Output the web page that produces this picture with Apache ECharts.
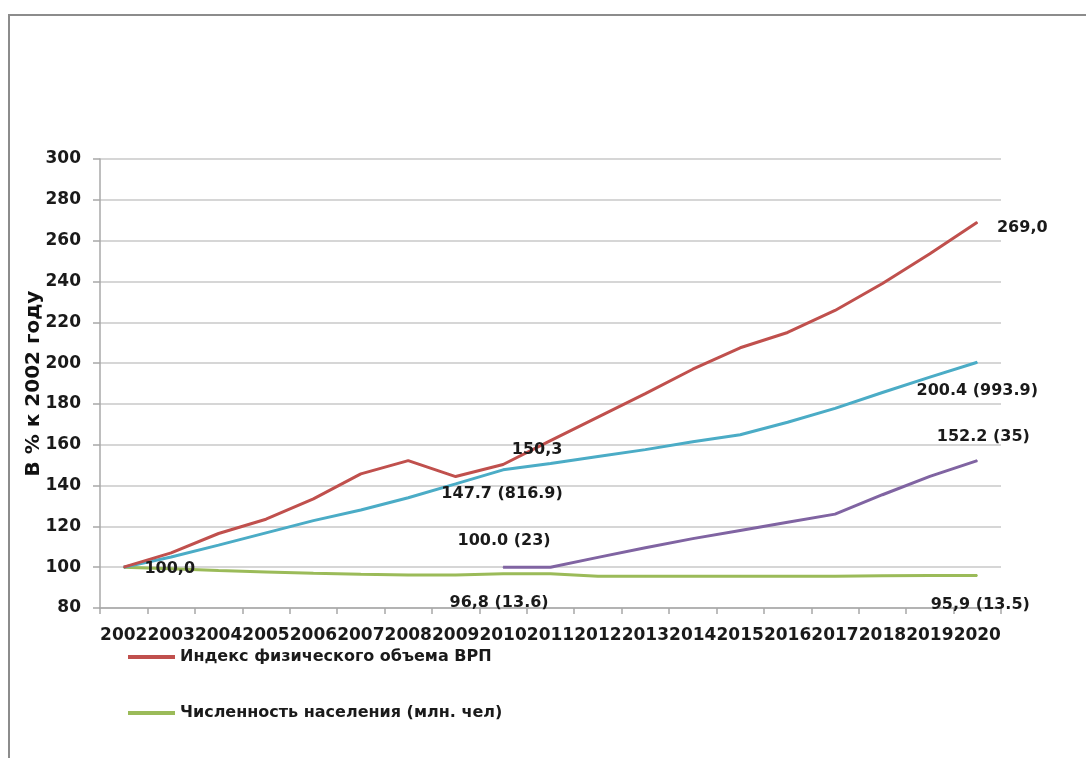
<!DOCTYPE html>
<html>
<head>
<meta charset="utf-8">
<script src="https://cdn.jsdelivr.net/npm/echarts@6/dist/echarts.min.js"></script>
<style>
  html, body { margin: 0; padding: 0; background: #fff; }
  #frame { position: absolute; left: 8px; top: 14px; width: 1078px; height: 744px;
           border-left: 2px solid #8c8c8c; border-top: 2px solid #8c8c8c; box-sizing: border-box; }
  #chart { position: absolute; left: 0; top: 0; width: 1086px; height: 758px; }
</style>
</head>
<body>
<div id="frame"></div>
<div id="chart"></div>
<script>
// Years on the category axis
const years = ['2002', '2003', '2004', '2005', '2006', '2007', '2008', '2009', '2010', '2011',
               '2012', '2013', '2014', '2015', '2016', '2017', '2018', '2019', '2020'];

// Index values, % of 2002
const grpVolumeIndex = [100.0, 107.0, 116.5, 123.5, 133.5, 145.7, 152.2, 144.4, 150.3, 162.0,
                        173.5, 185.0, 197.0, 207.5, 215.0, 225.8, 239.0, 253.6, 269.0];
const series3Index   = [100.0, 105.0, 110.8, 116.8, 122.8, 128.0, 134.0, 140.8, 147.7, 150.8,
                        154.2, 157.6, 161.5, 164.9, 171.0, 177.8, 185.6, 193.1, 200.4];
const series4Index   = [null, null, null, null, null, null, null, null, 100.0, 100.0,
                        104.8, 109.5, 114.0, 118.0, 122.0, 126.0, 135.5, 144.5, 152.2];
const populationIndex = [100.0, 99.2, 98.4, 97.7, 97.0, 96.5, 96.2, 96.2, 96.8, 96.8,
                         95.5, 95.6, 95.6, 95.6, 95.6, 95.6, 95.8, 95.9, 95.9];

// Absolute values shown in brackets for 2010 and 2020
const series3Absolute = [816.9, 993.9];
const series4Absolute = [23, 35];
const populationAbsolute = [13.6, 13.5];

const seriesNames = ['Индекс физического объема ВРП', 'Ряд 3', 'Ряд 4', 'Численность населения (млн. чел)'];
const yTitle = 'В % к 2002 году';

const FONT = 'DejaVu Sans';
const LABEL_STYLE = { fontFamily: FONT, fontWeight: 'bold', fontSize: 16, color: '#1a1a1a' };

function fmt(v, sep) { return v.toFixed(1).replace('.', sep); }

// Turns a value array into series data, attaching labels to selected years
function withLabels(values, labels) {
  return values.map((v, i) => {
    const l = labels[years[i]];
    if (!l || v == null) return v;
    return {
      value: v,
      label: Object.assign({ show: true, position: 'inside', formatter: l.text, offset: l.offset }, LABEL_STYLE)
    };
  });
}

const grpData = withLabels(grpVolumeIndex, {
  '2002': { text: fmt(grpVolumeIndex[0], ','), offset: [46, 2] },
  '2010': { text: fmt(grpVolumeIndex[8], ','), offset: [34, -15] },
  '2020': { text: fmt(grpVolumeIndex[18], ','), offset: [45, 6] }
});
const s3Data = withLabels(series3Index, {
  '2010': { text: fmt(series3Index[8], '.') + ' (' + series3Absolute[0] + ')', offset: [-1, 24] },
  '2020': { text: fmt(series3Index[18], '.') + ' (' + series3Absolute[1] + ')', offset: [0, 29] }
});
const s4Data = withLabels(series4Index, {
  '2010': { text: fmt(series4Index[8], '.') + ' (' + series4Absolute[0] + ')', offset: [1, -26] },
  '2020': { text: fmt(series4Index[18], '.') + ' (' + series4Absolute[1] + ')', offset: [6, -24] }
});
const popData = withLabels(populationIndex, {
  '2010': { text: fmt(populationIndex[8], ',') + ' (' + populationAbsolute[0] + ')', offset: [-4, 29] },
  '2020': { text: fmt(populationIndex[18], ',') + ' (' + populationAbsolute[1] + ')', offset: [3, 29] }
});

function lineSeries(name, data, color, z) {
  return {
    name: name,
    type: 'line',
    data: data,
    z: z,
    color: color,
    symbol: 'circle',
    symbolSize: 1,
    showSymbol: true,
    showAllSymbol: true,
    connectNulls: false,
    lineStyle: { width: 3, color: color },
    itemStyle: { color: color },
    label: { show: false },
    emphasis: { disabled: true },
    animation: false
  };
}

const chart = echarts.init(document.getElementById('chart'), null, { renderer: 'canvas' });
chart.setOption({
  backgroundColor: 'transparent',
  animation: false,
  grid: { left: 100, right: 85, top: 159, bottom: 150, containLabel: false },
  legend: {
    data: [seriesNames[0], seriesNames[3]],
    orient: 'vertical',
    left: 128,
    top: 647,
    padding: 0,
    icon: 'rect',
    itemWidth: 47,
    itemHeight: 4,
    itemGap: 36,
    selectedMode: false,
    textStyle: { fontFamily: FONT, fontWeight: 'bold', fontSize: 16, color: '#1a1a1a', lineHeight: 20 }
  },
  xAxis: {
    type: 'category',
    data: years,
    boundaryGap: true,
    axisLine: { lineStyle: { color: '#a8a8a8', width: 1.5 } },
    axisTick: { show: true, length: 6, lineStyle: { color: '#a8a8a8', width: 1.5 } },
    axisLabel: { interval: 0, margin: 19, fontFamily: FONT, fontWeight: 'bold', fontSize: 17, color: '#1a1a1a' }
  },
  yAxis: {
    type: 'value',
    min: 80,
    max: 300,
    interval: 20,
    name: yTitle,
    nameLocation: 'middle',
    nameRotate: 90,
    nameGap: 56,
    nameMoveOverlap: false,
    nameTextStyle: { fontFamily: FONT, fontWeight: 'bold', fontSize: 20, color: '#111' },
    axisLine: { show: true, lineStyle: { color: '#a8a8a8', width: 1.5 } },
    axisTick: { show: true, length: 7, lineStyle: { color: '#a8a8a8', width: 1.5 } },
    axisLabel: { margin: 19, fontFamily: FONT, fontWeight: 'bold', fontSize: 17, color: '#1a1a1a' },
    splitLine: { show: true, lineStyle: { color: '#c8c8c8', width: 1.5 } }
  },
  series: [
    lineSeries(seriesNames[3], popData, '#9BBB59', 2),
    lineSeries(seriesNames[2], s4Data, '#8064A2', 3),
    lineSeries(seriesNames[1], s3Data, '#4BACC6', 4),
    lineSeries(seriesNames[0], grpData, '#C0504D', 5)
  ]
});
</script>
</body>
</html>
